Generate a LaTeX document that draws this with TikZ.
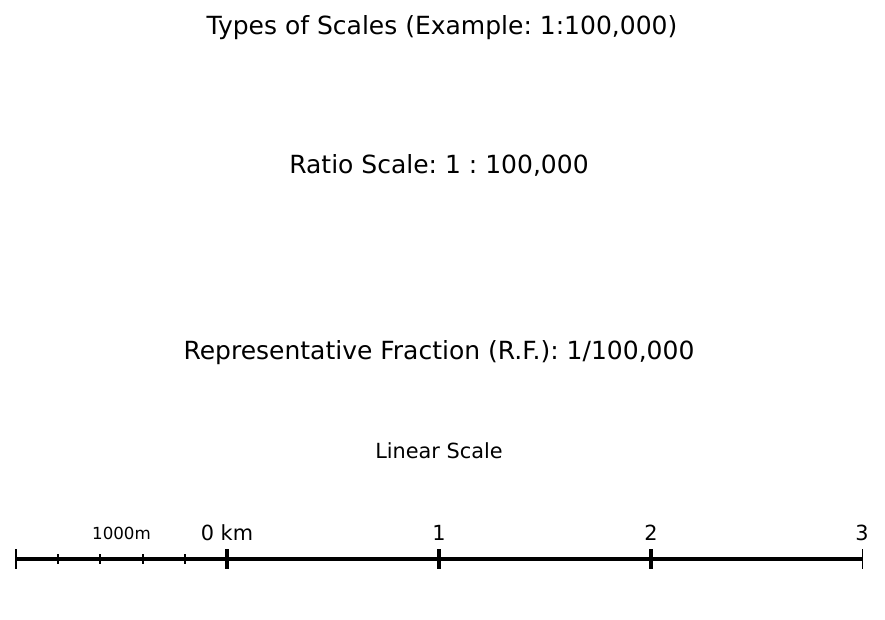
\documentclass[tikz,border=0pt]{standalone}
\usepackage{fontspec}
\setmainfont{DejaVu Sans}
\usetikzlibrary{positioning}
\frenchspacing

\begin{document}
\begin{tikzpicture}[x=.72pt,y=-.72pt,line cap=butt]
\useasboundingbox (0,0) rectangle (885,619);
\tikzset{
 heading/.style={anchor=base,font=\fontsize{18}{20}\selectfont},
 ticklabel/.style={anchor=base,font=\fontsize{15}{17}\selectfont},
}
% texts
\node[heading] (title) at (442,34) {Types of Scales (Example: 1:100,000)};
\node[heading] (ratio) at (439,173) {Ratio Scale: 1 : 100,000};
\node[heading] (rf) at (439,359) {Representative Fraction (R.F.): 1/100,000};
\node[anchor=base,font=\fontsize{15}{17}\selectfont] (lin) at (439,458) {Linear Scale};
% scale bar
\coordinate (left) at (16,559);
\coordinate (right) at (862,559);
\draw[line width=2.2pt] (left)--(right);
\draw[line width=1.3pt] (16,549)--(16,569);
\foreach \i in {1,...,4}{
 \draw[line width=1.3pt] ({16+\i*42.2},554)--({16+\i*42.2},564);
}
\foreach \x/\t/\n in {227/0 km/k0,439/1/k1,651/2/k2}{
 \draw[line width=2.2pt] (\x,549)--(\x,569);
 \node[ticklabel] (\n) at (\x,540) {\t};
}
\draw[line width=.7pt] (862,549)--(862,569);
\node[ticklabel] (k3) at (862,540) {3};
\node[anchor=base,font=\fontsize{12}{14}\selectfont] (sub) at (121.5,539) {1000m};
\end{tikzpicture}
\end{document}
